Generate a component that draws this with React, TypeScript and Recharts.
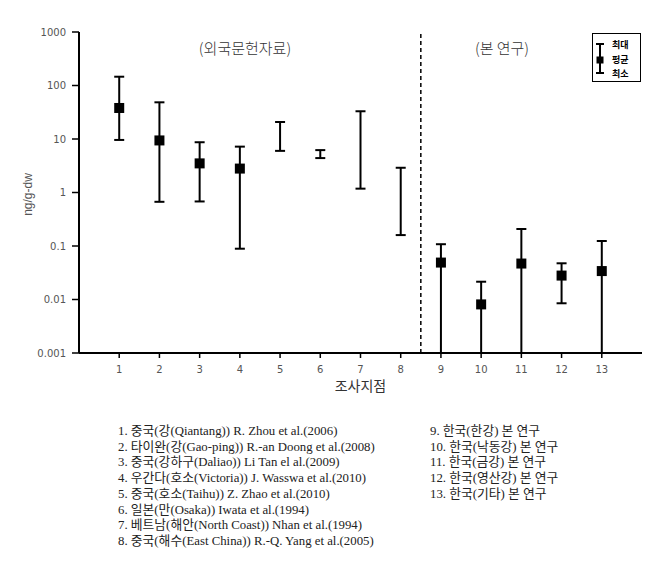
import { ComposedChart, XAxis, YAxis, Scatter, ErrorBar, ReferenceLine } from "recharts";

// survey sites 1-13, values in ng/g-dw
const sites = [1, 2, 3, 4, 5, 6, 7, 8, 9, 10, 11, 12, 13];
const maxValues = [146, 48.5, 8.7, 7.2, 20.8, 6.2, 33, 2.9, 0.108, 0.0215, 0.208, 0.0475, 0.124];
const meanValues = [38, 9.4, 3.5, 2.8, null, null, null, null, 0.049, 0.0081, 0.047, 0.028, 0.034];
// null = below detection, drawn down to the axis floor
const minValues = [9.6, 0.67, 0.68, 0.089, 6.0, 4.4, 1.18, 0.16, null, null, null, 0.0085, null];
const yTicks = [0.001, 0.01, 0.1, 1, 10, 100, 1000];
const FLOOR = 0.001;

const notesLeft = [
  "1. 중국(강(Qiantang)) R. Zhou et al.(2006)",
  "2. 타이완(강(Gao-ping)) R.-an Doong et al.(2008)",
  "3. 중국(강하구(Daliao)) Li Tan el al.(2009)",
  "4. 우간다(호소(Victoria)) J. Wasswa et al.(2010)",
  "5. 중국(호소(Taihu)) Z. Zhao et al.(2010)",
  "6. 일본(만(Osaka)) Iwata et al.(1994)",
  "7. 베트남(해안(North Coast)) Nhan et al.(1994)",
  "8. 중국(해수(East China)) R.-Q. Yang et al.(2005)",
];
const notesRight = [
  "9. 한국(한강) 본 연구",
  "10. 한국(낙동강) 본 연구",
  "11. 한국(금강) 본 연구",
  "12. 한국(영산강) 본 연구",
  "13. 한국(기타) 본 연구",
];

const data = sites.map((site, i) => {
  const mean = meanValues[i];
  const anchor = mean ?? maxValues[i];
  const low = minValues[i] ?? FLOOR;
  return { site, mean, anchor, err: [anchor - low, maxValues[i] - anchor] };
});

const MeanMark = (props: any) => {
  const { cx, cy, payload } = props;
  if (payload.mean == null) return <g />;
  return <rect x={cx - 5} y={cy - 5} width={10} height={10} fill="#000" />;
};

const YLabel = (props: any) => {
  const { viewBox } = props;
  const x = viewBox.x - 1;
  const y = viewBox.y + viewBox.height / 2 + 2;
  return (
    <text x={x} y={y} transform={`rotate(-90, ${x}, ${y})`} textAnchor="middle" dominantBaseline="central"
      fontSize={12} fill="#555" fontFamily="Liberation Sans">
      ng/g-dw
    </text>
  );
};

const tickStyle = { fontSize: 10, fill: "#555", fontFamily: "DejaVu Sans" };
const korean = '"Noto Sans CJK KR"';
const serifKo = '"Liberation Serif", "Noto Sans CJK KR"';

const App = () => {
  return (
    <div style={{ position: "absolute", left: 0, top: 0, width: 672, height: 562, background: "#fff" }}>
      <ComposedChart width={672} height={400} data={data} margin={{ top: 32, right: 30, left: 29, bottom: 2 }}>
        <XAxis
          dataKey="site"
          type="number"
          domain={[0, 14]}
          ticks={sites}
          interval={0}
          height={45}
          tick={tickStyle}
          tickSize={5}
          tickMargin={8}
          axisLine={{ stroke: "#000", strokeWidth: 2 }}
          tickLine={{ stroke: "#000", strokeWidth: 1.5 }}
          label={{ value: "조사지점", position: "insideBottom", offset: 7, fontSize: 14, fill: "#333", fontFamily: korean }}
        />
        <XAxis xAxisId="top" orientation="top" type="number" domain={[0, 14]} height={0} tick={false} tickLine={false}
          axisLine={{ stroke: "#000", strokeWidth: 2 }} />
        <YAxis
          scale="log"
          type="number"
          domain={[0.001, 1000]}
          allowDataOverflow
          ticks={yTicks}
          interval={0}
          width={50}
          tick={tickStyle}
          tickSize={7}
          tickMargin={6}
          tickFormatter={(v: number) => String(v)}
          axisLine={{ stroke: "#000", strokeWidth: 2 }}
          tickLine={{ stroke: "#000", strokeWidth: 1.5 }}
          label={<YLabel />}
        />
        <YAxis yAxisId="right" orientation="right" scale="log" type="number" domain={[0.001, 1000]} width={0}
          tick={false} tickLine={false} axisLine={{ stroke: "#000", strokeWidth: 2 }} />
        <ReferenceLine x={8.5} stroke="#000" strokeWidth={1.5} strokeDasharray="4 3" />
        <Scatter dataKey="anchor" shape={MeanMark} isAnimationActive={false}>
          <ErrorBar dataKey="err" direction="y" width={5} stroke="#000" strokeWidth={2} isAnimationActive={false} />
        </Scatter>
      </ComposedChart>

      <div style={{ position: "absolute", left: 245, top: 47, transform: "translate(-50%, -50%)", fontSize: 15, color: "#333", fontFamily: korean, fontWeight: 300, whiteSpace: "nowrap" }}>
        (외국문헌자료)
      </div>
      <div style={{ position: "absolute", left: 502, top: 47, transform: "translate(-50%, -50%)", fontSize: 15, color: "#333", fontFamily: korean, fontWeight: 300, whiteSpace: "nowrap" }}>
        (본 연구)
      </div>

      <svg style={{ position: "absolute", left: 592, top: 33 }} width={50} height={50}>
        <rect x={0.5} y={0.5} width={48} height={48} fill="#fff" stroke="#000" strokeWidth={1} />
        <line x1={8} y1={11} x2={8} y2={40} stroke="#000" strokeWidth={2} />
        <line x1={4} y1={11} x2={12} y2={11} stroke="#000" strokeWidth={2} />
        <line x1={4} y1={40} x2={12} y2={40} stroke="#000" strokeWidth={2} />
        <rect x={4.5} y={23.5} width={7} height={7} fill="#000" />
        <g fontSize={9} fontWeight="bold" fontFamily={korean} fill="#000" dominantBaseline="central">
          <text x={20} y={11}>최대</text>
          <text x={20} y={26}>평균</text>
          <text x={20} y={40}>최소</text>
        </g>
      </svg>

      <div style={{ position: "absolute", left: 118, top: 424, fontSize: 12.8, lineHeight: "15.7px", color: "#222", fontFamily: serifKo, whiteSpace: "nowrap" }}>
        {notesLeft.map((n) => (
          <div key={n}>{n}</div>
        ))}
      </div>
      <div style={{ position: "absolute", left: 430, top: 424, fontSize: 12.8, lineHeight: "15.7px", color: "#222", fontFamily: serifKo, whiteSpace: "nowrap" }}>
        {notesRight.map((n) => (
          <div key={n}>{n}</div>
        ))}
      </div>
    </div>
  );
};

export default App;
